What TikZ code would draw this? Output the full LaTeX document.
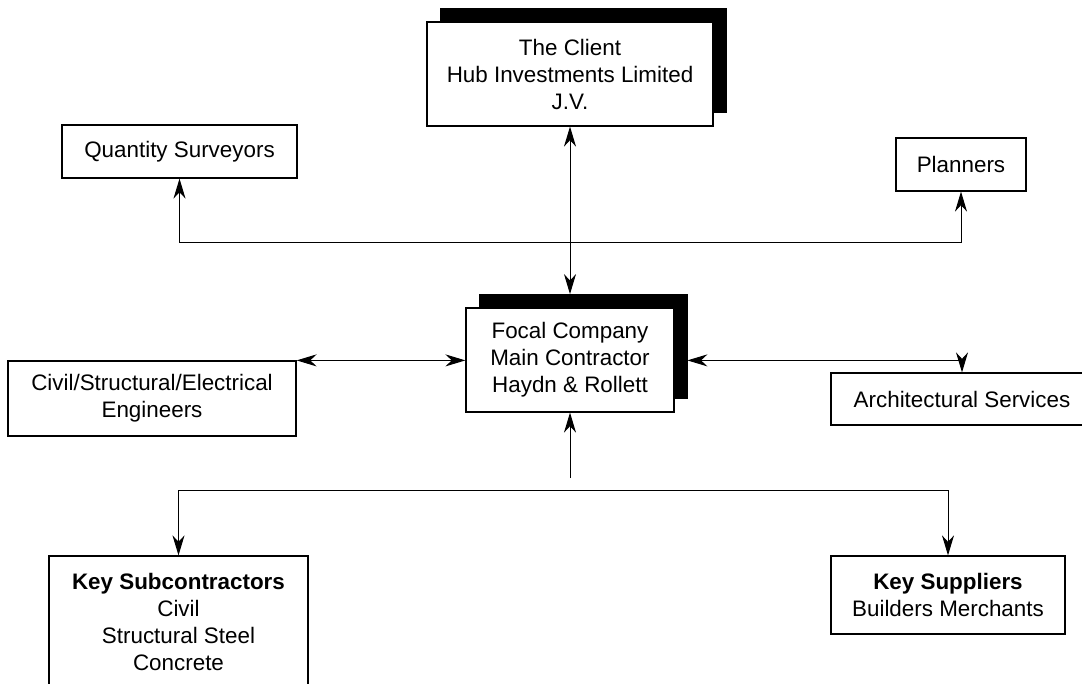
\documentclass[tikz,border=0pt]{standalone}
\usepackage{fontspec}
\setmainfont{Liberation Sans}
\usetikzlibrary{arrows.meta}

\tikzset{
  >={Stealth[length=10pt,width=6pt,inset=3.2pt]},
  box/.style={draw,line width=0.6pt,fill=white,inner sep=0pt,align=center,
    font=\fontsize{11.2}{13.5}\selectfont},
  shadowbox/.style={fill=black,draw=black,inner sep=0pt},
  link/.style={line width=0.5pt,<->},
}

\begin{document}
\begin{tikzpicture}[x=0.5pt,y=-0.5pt]
        \useasboundingbox (0,0) rectangle (1082,684);
        \clip (0,0) rectangle (1082,684);
        %% Client
        \node[shadowbox,minimum width=143pt,minimum height=52pt] (clientshadow) at (583,60) {};
        \node[box,minimum width=143pt,minimum height=52pt] (client) at (570,74)
            {The Client\\Hub Investments Limited\\J.V.};
        %% Focal company
        \node[shadowbox,minimum width=104pt,minimum height=52pt] (focalshadow) at (583,346.5) {};
        \node[box,minimum width=104pt,minimum height=52pt] (focal) at (570,360)
            {Focal Company\\Main Contractor\\Haydn \& Rollett};
        %% Consultants
        \node[box,minimum width=117.5pt,minimum height=26.5pt] (qs) at (179.5,151.5) {Quantity Surveyors};
        \node[box,minimum width=65pt,minimum height=26.5pt] (planners) at (961,164.5) {Planners};
        \node[box,minimum width=144pt,minimum height=37.5pt] (civil) at (152,398.5)
            {Civil/Structural/Electrical\\Engineers};
        \node[box,minimum width=131pt,minimum height=26pt] (arch) at (962,399) {Architectural Services};
        %% Supply chain
        \node[box,minimum width=129.5pt,minimum height=66pt] (subcon) at (178.5,622)
            {\textbf{Key Subcontractors}\\Civil\\Structural Steel\\Concrete};
        \node[box,minimum width=117pt,minimum height=39pt] (suppliers) at (948,595)
            {\textbf{Key Suppliers}\\Builders Merchants};
        %% Connectors
        \coordinate (topbus) at (570,243);
        \coordinate (botstub) at (570,478);
        \coordinate (botbus) at (570,490);
        \draw[link] (client.south) -- (client.south |- focalshadow.north);
        \draw[link] (qs.south) -- (qs.south |- topbus) -- (planners.south |- topbus) -- (planners.south);
        \draw[link] (civil.north east) -- (focal.west |- civil.north east);
        \draw[link] (focalshadow.east |- civil.north east) -| (arch.north);
        \draw[line width=0.5pt,->] (botstub) -- (focal.south);
        \draw[link] (subcon.north) -- (subcon.north |- botbus) -- (suppliers.north |- botbus) -- (suppliers.north);
    \end{tikzpicture}
\end{document}
